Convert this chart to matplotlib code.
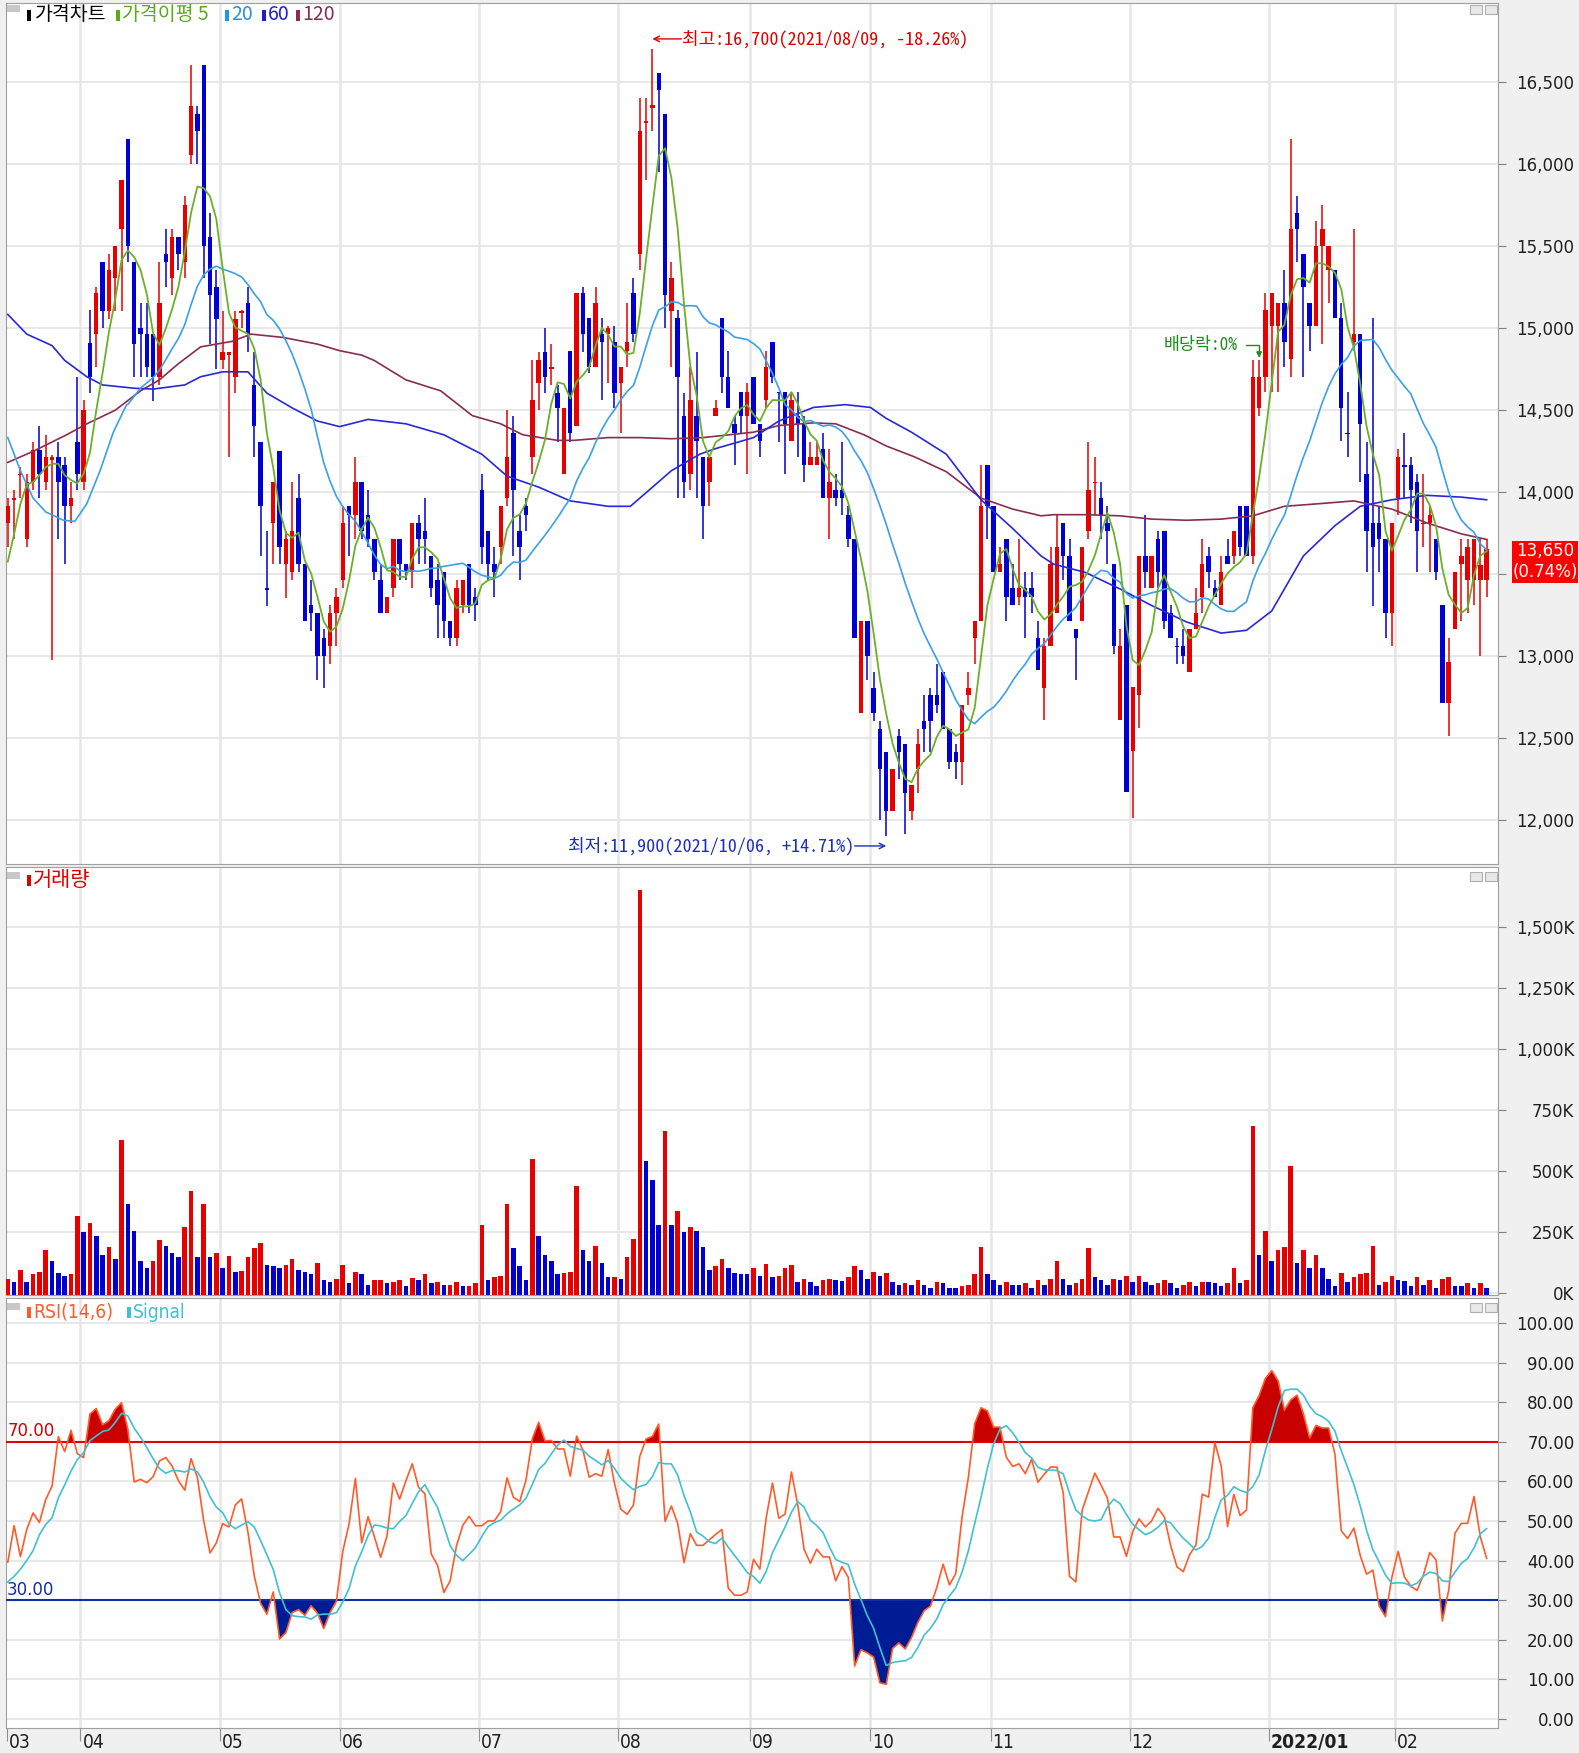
import numpy as np
import pandas as pd
import matplotlib
matplotlib.use("Agg")
import matplotlib.pyplot as plt
from matplotlib import font_manager
from matplotlib.patches import Rectangle
import matplotlib.transforms as mtransforms

# ---- daily candles, index 0 = 2021/03/16 ----
opens = [
    13810, 13950, 14100, 13710, 14060, 14255, 14060, 14190, 14210, 14160,
    13910, 14300, 14060, 14905, 14960, 15400, 15100, 15300, 15600, 16150,
    15400, 15000, 14960, 14960, 14700, 15450, 15300, 15550, 15400, 16050,
    16300, 16600, 15550, 15250, 14800, 14830, 14700, 15090, 15150, 14650,
    14300, 13410, 13810, 14250, 13560, 13510, 13960, 13560, 13310, 13260,
    13110, 13060, 13260, 13460, 13910, 13860, 14060, 13860, 13710, 13460,
    13260, 13410, 13710, 13560, 13510, 13810, 13760, 13610, 13460, 13510,
    13210, 13110, 13310, 13560, 13360, 14010, 13760, 13560, 13660, 13960,
    14360, 13760, 13910, 14210, 14660, 14850, 14750, 14600, 14110, 14860,
    14400, 15210, 15060, 14760, 14960, 14960, 14910, 14660, 14860, 15210,
    15450, 16250, 16340, 16550, 16300, 15100, 15060, 14460, 14110, 14460,
    14210, 14060, 14460, 15060, 14700, 14410, 14610, 14460, 14700, 14410,
    14560, 14910, 14610, 14610, 14310, 14460, 14410, 14160, 14160, 14260,
    13960, 14010, 14010, 13860, 13710, 12650, 13210, 12800, 12550, 12410,
    12050, 12510, 12460, 12050, 12310, 12600, 12760, 12760, 12900, 12550,
    12410, 12350, 12760, 13110, 13210, 14160, 13910, 13510, 13710, 13410,
    13360, 13410, 13410, 13110, 12800, 13060, 13260, 13810, 13610, 13160,
    13210, 13760, 14050, 13960, 13810, 13560, 12610, 13310, 12420, 12760,
    13610, 13410, 13710, 13760, 13260, 13060, 13060, 12900, 13160, 13360,
    13610, 13410, 13310, 13610, 13610, 13910, 13910, 13610, 14510, 14700,
    15010, 15010, 15150, 14810, 15700, 15450, 15150, 15010, 15500, 15350,
    15350, 15060, 14360, 14910, 14960, 14110, 13810, 13810, 13710, 13260,
    13960, 14160, 14160, 14060, 13800, 13810, 13710, 13310, 12710, 13160,
    13560, 13460, 13460, 13460, 13460,
]
highs = [
    13960, 14010, 14150, 14110, 14300, 14400, 14345, 14220, 14300, 14210,
    14060, 14700, 14560, 15110, 15250, 15400, 15450, 15500, 15900, 16150,
    15400, 15150, 15150, 14960, 15400, 15600, 15600, 15550, 15800, 16600,
    16350, 16600, 15700, 15350, 15100, 14850, 15100, 15110, 15250, 14850,
    14300, 13760, 14060, 14250, 13760, 14060, 14110, 13560, 13460, 13260,
    13160, 13310, 13410, 13910, 13910, 14210, 14060, 14010, 13710, 13560,
    13360, 13710, 13710, 13560, 13810, 13860, 13960, 13610, 13560, 13510,
    13210, 13460, 13460, 13560, 13410, 14110, 13760, 13660, 13910, 14500,
    14460, 13860, 13960, 14800, 14850, 15000, 14900, 14650, 14510, 14860,
    15210, 15250, 15060, 15250, 15060, 15010, 15010, 14760, 15150, 15300,
    16400, 16400, 16700, 16550, 16300, 15400, 15110, 14600, 14760, 14850,
    14210, 14210, 14560, 15060, 14860, 14460, 14610, 14660, 14700, 14410,
    14860, 14910, 14610, 14610, 14610, 14610, 14460, 14300, 14300, 14360,
    14260, 14110, 14300, 13910, 13710, 13210, 13210, 12900, 12600, 12410,
    12310, 12550, 12460, 12210, 12550, 12760, 12800, 12950, 12900, 12550,
    12460, 12700, 12900, 13210, 14160, 14160, 13910, 13660, 13710, 13560,
    13710, 13510, 13510, 13210, 13110, 13660, 13860, 13810, 13710, 13160,
    13660, 14300, 14210, 14060, 13910, 13560, 13160, 13310, 12810, 13610,
    13860, 13610, 13760, 13760, 13310, 13110, 13160, 13160, 13410, 13710,
    13660, 13460, 13610, 13710, 13760, 13910, 13910, 14800, 14800, 15210,
    15210, 15150, 15350, 16150, 15800, 15450, 15150, 15650, 15750, 15500,
    15350, 15150, 14610, 15600, 14960, 14300, 15060, 13910, 13710, 13810,
    14260, 14360, 14210, 14110, 14110, 13910, 13710, 13310, 13110, 13510,
    13710, 13710, 13710, 13710, 13710,
]
lows = [
    13660, 13710, 13960, 13660, 14010, 13960, 14010, 12970, 13710, 13560,
    13810, 14010, 14010, 14600, 14760, 15000, 15050, 15100, 15100, 15400,
    14700, 14700, 14700, 14550, 14650, 15250, 15200, 15350, 15300, 16000,
    16000, 15300, 14900, 14750, 14750, 14210, 14600, 15000, 14850, 14210,
    13610, 13300, 13560, 13560, 13350, 13460, 13510, 13210, 13150, 12850,
    12800, 12950, 13060, 13410, 13610, 13710, 13710, 13660, 13460, 13260,
    13260, 13360, 13460, 13460, 13410, 13560, 13560, 13360, 13110, 13110,
    13060, 13060, 13260, 13260, 13210, 13560, 13460, 13360, 13560, 13910,
    13610, 13460, 13760, 14110, 14500, 14600, 14650, 14300, 14110, 14300,
    14400, 14850, 14720, 14760, 14560, 14660, 14510, 14360, 14760, 14910,
    15350, 15900, 16200, 15950, 15000, 14760, 13960, 13960, 14010, 13960,
    13710, 13910, 14460, 14600, 14510, 14160, 14360, 14110, 14410, 14210,
    14510, 14660, 14300, 14110, 14310, 14210, 14060, 14160, 14160, 13960,
    13710, 13910, 13860, 13660, 13110, 12650, 12850, 12600, 12000, 11900,
    12050, 12250, 11910, 12000, 12160, 12410, 12410, 12650, 12550, 12310,
    12250, 12210, 12700, 12950, 13210, 13710, 13510, 13510, 13210, 13310,
    13310, 13110, 13260, 12910, 12610, 13060, 13260, 13460, 13210, 12850,
    13210, 13710, 13860, 13710, 13560, 13010, 12610, 12170, 12010, 12560,
    13410, 13410, 13410, 13160, 13110, 12950, 12950, 12900, 13160, 13260,
    13410, 13360, 13310, 13560, 13560, 13610, 13610, 13560, 14460, 14610,
    14610, 14610, 14760, 14700, 15400, 14700, 14860, 15010, 14900, 15150,
    15060, 14310, 14210, 14860, 14060, 13510, 13300, 13510, 13110, 13060,
    13860, 13960, 13810, 13510, 13660, 13510, 13460, 12710, 12510, 13160,
    13210, 13260, 13310, 13000, 13360,
]
closes = [
    13910, 13960, 14110, 14060, 14255, 14110, 14210, 14210, 14060, 13910,
    13960, 14110, 14500, 14700, 15210, 15100, 15350, 15500, 15900, 15500,
    14900, 14960, 14760, 14700, 15150, 15400, 15550, 15450, 15750, 16350,
    16200, 15500, 15200, 15050, 14850, 14850, 15050, 15100, 14960, 14400,
    13910, 13400, 14060, 13660, 13710, 13760, 13560, 13210, 13260, 13000,
    13000, 13260, 13360, 13810, 13860, 14060, 13760, 13710, 13510, 13260,
    13360, 13710, 13560, 13510, 13810, 13710, 13710, 13410, 13310, 13210,
    13110, 13410, 13460, 13310, 13310, 13660, 13560, 13510, 13910, 14210,
    14010, 13660, 13860, 14560, 14800, 14700, 14760, 14510, 14510, 14360,
    15210, 14960, 14760, 15150, 14910, 15000, 14600, 14760, 14910, 14960,
    16200, 16260, 16360, 16450, 15200, 15300, 14700, 14060, 14560, 14310,
    13910, 14210, 14510, 14700, 14510, 14360, 14460, 14610, 14410, 14310,
    14760, 14700, 14600, 14410, 14560, 14410, 14160, 14210, 14210, 13960,
    14060, 13960, 13960, 13710, 13110, 13210, 13000, 12650, 12310, 12050,
    12310, 12410, 12160, 12210, 12460, 12550, 12600, 12700, 12550, 12350,
    12350, 12700, 12800, 13210, 13910, 13910, 13510, 13560, 13360, 13310,
    13410, 13360, 13360, 12910, 13060, 13560, 13660, 13610, 13210, 13110,
    13660, 14010, 14060, 13860, 13760, 13060, 13060, 12170, 12810, 13610,
    13510, 13610, 13510, 13210, 13110, 13050, 13000, 13160, 13260, 13560,
    13510, 13360, 13510, 13560, 13760, 13660, 13610, 14700, 14700, 15110,
    15210, 15150, 14910, 15600, 15600, 15250, 15010, 15500, 15600, 15500,
    15060, 14510, 14350, 14960, 14410, 13760, 13660, 13710, 13260, 13810,
    14210, 14150, 14010, 13760, 13810, 13860, 13510, 12710, 12960, 13510,
    13610, 13660, 13710, 13550, 13650,
]
# volume in thousands of shares
volumes = [
    60, 48, 96, 48, 78, 89, 178, 133, 85, 71,
    78, 318, 249, 288, 233, 158, 188, 140, 626, 366,
    256, 133, 103, 133, 219, 195, 164, 147, 270, 420,
    147, 366, 147, 164, 103, 153, 89, 90, 147, 184,
    208, 115, 113, 103, 115, 140, 96, 89, 78, 126,
    53, 47, 60, 115, 41, 89, 78, 34, 53, 53,
    41, 48, 53, 29, 64, 53, 78, 41, 48, 34,
    34, 48, 29, 29, 41, 281, 53, 66, 71, 366,
    184, 110, 53, 551, 233, 158, 133, 78, 85, 89,
    441, 178, 133, 195, 126, 66, 66, 60, 147, 222,
    1650, 540, 466, 281, 663, 281, 338, 249, 270, 256,
    188, 96, 110, 140, 103, 85, 78, 77, 103, 71,
    122, 66, 71, 103, 115, 47, 60, 48, 29, 53,
    60, 53, 52, 66, 110, 96, 60, 89, 71, 85,
    48, 34, 41, 34, 53, 34, 22, 48, 41, 22,
    21, 29, 34, 78, 190, 78, 53, 34, 48, 34,
    33, 41, 22, 53, 34, 60, 133, 60, 34, 41,
    60, 184, 66, 53, 34, 60, 53, 71, 48, 71,
    48, 34, 41, 53, 41, 22, 34, 48, 29, 48,
    47, 41, 29, 41, 103, 41, 53, 684, 158, 256,
    133, 178, 190, 521, 126, 178, 103, 158, 103, 60,
    29, 85, 48, 66, 78, 85, 195, 34, 48, 71,
    53, 52, 29, 66, 34, 53, 22, 60, 66, 29,
    28, 41, 22, 41, 22,
]

# moving-average values visible before enough history exists
ma5_head = [13573, 13741, 13926, 14043]
ma20_head_x = [0, 2, 4, 6, 8.8, 10.6, 12.5, 14.6, 16.7, 18.8]
ma20_head_v = [14329, 14127, 13960, 13876, 13825, 13818, 13926, 14127, 14362, 14530]
ma60_x = [0, 3, 7, 9, 12.5, 15, 20, 23, 28, 30.5, 34, 38, 41, 45, 49, 52.5, 57,
          63, 69, 75, 79, 84, 89, 95, 98.5, 101, 105, 109.5, 112, 118, 122,
          127.5, 132.5, 136.5, 139, 143, 148.5, 154, 159, 163.5, 165.5, 170.5,
          176, 181, 186.5, 192, 196, 200, 205, 210, 214, 219, 224.5, 230, 234]
ma60_v = [15080, 14960, 14890, 14800, 14700, 14650, 14630, 14625, 14650, 14700,
          14730, 14730, 14600, 14510, 14430, 14396, 14440, 14413, 14346, 14228,
          14094, 14027, 13943, 13910, 13910, 13993, 14127, 14228, 14262, 14329,
          14430, 14513, 14530, 14513, 14446, 14362, 14228, 13950, 13775, 13607,
          13557, 13507, 13406, 13305, 13205, 13137, 13154, 13272, 13607, 13792,
          13910, 13950, 13977, 13966, 13950]
ma120_x = [0, 4, 9.3, 12.5, 17, 21, 24, 27, 30.5, 35.5, 38.5, 43.5, 49, 52.5,
           56, 58, 63, 68.5, 73.5, 78, 81.5, 87, 89.5, 95, 100, 105, 110, 118,
           122, 127.5, 131, 135.5, 139, 143.5, 148.5, 154, 159, 163.5, 165.5,
           170.5, 176, 181, 186.5, 192, 197, 202, 207.5, 213, 217, 219, 224.5,
           230, 234]
ma120_v = [14178, 14245, 14346, 14413, 14496, 14614, 14681, 14780, 14882, 14916,
           14960, 14940, 14899, 14859, 14832, 14799, 14681, 14614, 14463, 14413,
           14346, 14312, 14312, 14329, 14329, 14322, 14329, 14362, 14403, 14419,
           14413, 14346, 14278, 14211, 14121, 13960, 13893, 13852, 13859, 13859,
           13852, 13832, 13825, 13832, 13852, 13910, 13926, 13943, 13910, 13893,
           13809, 13742, 13708]
rsi_head = [39.6, 48.8, 41.0, 47.9, 52.0, 49.6, 55.4, 58.8, 71.3, 67.5, 72.9, 67.0, 66.0, 77.0]
signal_head = [34.6, 36.0, 37.8, 40.0, 42.5]

month_starts = [0, 12, 34, 53, 75, 97, 118, 137, 156, 178, 200, 220]
month_labels = ["03", "04", "05", "06", "07", "08", "09", "10", "11", "12", "2022/01", "02"]
price_ticks = [12000, 12500, 13000, 13500, 14000, 14500, 15000, 15500, 16000, 16500]
vol_ticks = [0, 250, 500, 750, 1000, 1250, 1500]
rsi_ticks = [0, 10, 20, 30, 40, 50, 60, 70, 80, 90, 100]

# ---- styling ----
W, H = 1579, 1753
UP, DOWN = "#e60000", "#0000d2"
GRID = "#e6e6e6"
EDGE = "#a0a0a0"
KR = ["Noto Sans CJK KR", "DejaVu Sans"]
KR_MONO = ["Noto Sans Mono CJK KR", "Noto Sans CJK KR", "DejaVu Sans"]

# tall narrow font for the axis numbers, if one is installed
_fonts = font_manager.fontManager.ttflist
if any(f.name == "Liberation Sans Narrow" for f in _fonts):
    NARROW, NS = dict(family="Liberation Sans Narrow"), 1.0
elif any(f.name == "DejaVu Sans" and f.stretch == "condensed" for f in _fonts):
    NARROW, NS = dict(family="DejaVu Sans", fontstretch="condensed"), 0.95
else:
    NARROW, NS = dict(family="DejaVu Sans"), 0.86

N = len(closes)
x = np.arange(N)
o = np.array(opens, float)
h = np.array(highs, float)
l = np.array(lows, float)
c = np.array(closes, float)
cols = np.where(c >= o, UP, DOWN)

cs = pd.Series(c)
ma5 = cs.rolling(5).mean()
ma20 = cs.rolling(20).mean()
d = cs.diff()
gain = d.clip(lower=0).rolling(14).sum()
loss = (-d.clip(upper=0)).rolling(14).sum()
rsi = 100 * gain / (gain + loss)
rsi.iloc[:14] = rsi_head
signal = rsi.rolling(6).mean()
signal.iloc[:5] = signal_head

grid_x = [m - 0.5 for m in month_starts[1:]]

fig = plt.figure(figsize=(W / 100, H / 100), dpi=100, facecolor="#f0f0f0")


def add_panel(top, bottom):
    ax = fig.add_axes([6 / W, 1 - bottom / H, 1492 / W, (bottom - top) / H])
    ax.set_facecolor("white")
    ax.set_xlim(-0.285, 235.8)
    for s in ax.spines.values():
        s.set_color(EDGE)
    ax.set_axisbelow(True)
    ax.grid(axis="y", color=GRID, lw=1.3)
    for g in grid_x:
        ax.axvline(g, color=GRID, lw=1.8, zorder=0)
    return ax


def right_labels(ax, ticks, labels):
    ax.set_yticks(ticks)
    ax.yaxis.tick_right()
    ax.set_yticklabels(labels, fontsize=14 * NS, color="#202020", **NARROW)
    ax.tick_params(axis="y", length=6, color="#808080", pad=49)
    for t in ax.get_yticklabels():
        t.set_horizontalalignment("right")


def ftext(px, py, s, **kw):
    return fig.text(px / W, 1 - py / H, s, **kw)


def frect(px, py, w, hh, z=1, **kw):
    fig.add_artist(Rectangle((px / W, 1 - (py + hh) / H), w / W, hh / H,
                             transform=fig.transFigure, zorder=z, **kw))


def legend_item(px, py, color, label, **kw):
    frect(px, py - 5, 4, 11, facecolor=color, edgecolor="none")
    ftext(px + 6, py, label, color=color, va="center", **kw)


def panel_icons(py):
    frect(7, py, 13, 7, facecolor="#c8c8c8", edgecolor="none")
    frect(1470, py, 12, 9, facecolor="#e8e8e8", edgecolor="#b0b0b0", lw=0.8)
    frect(1485, py, 12, 9, facecolor="#e8e8e8", edgecolor="#b0b0b0", lw=0.8)


# ---- price panel ----
ax_p = add_panel(3, 864)
ax_p.set_ylim(11729, 16979)
ax_p.set_xticks([])
# the last-price box on the axis hides the label it sits on
right_labels(ax_p, price_ticks, ["" if v == 13500 else f"{v:,}" for v in price_ticks])

ax_p.vlines(x, l, h, colors=cols, lw=1.1, zorder=3)
ax_p.bar(x, np.maximum(np.abs(c - o), 10), bottom=np.minimum(o, c), width=0.7,
         color=cols, lw=0, zorder=4)

ax_p.plot(ma120_x, ma120_v, color="#8a2c52", lw=1.2, zorder=5)
ax_p.plot(ma60_x, ma60_v, color="#2828d8", lw=1.2, zorder=5)
ax_p.plot(ma20_head_x + list(range(19, N)), ma20_head_v + list(ma20[19:]),
          color="#3aa0e8", lw=1.2, zorder=5)
ax_p.plot(list(range(4)) + list(range(4, N)), ma5_head + list(ma5[4:]),
          color="#6ab02a", lw=1.3, zorder=6)

hi = int(np.argmax(h))
lo = int(np.argmin(l))
ax_p.annotate("", xy=(hi, 16760), xytext=(hi + 4.6, 16760),
              arrowprops=dict(arrowstyle="->", color="#e00000", lw=1, shrinkA=0, shrinkB=0))
ax_p.text(hi + 4.7, 16760, f"최고:{h[hi]:,.0f}(2021/08/09, -18.26%)", color="#e00000",
          fontsize=13, family=KR_MONO, va="center", ha="left")
ax_p.annotate("", xy=(lo, 11839), xytext=(lo - 5.0, 11839),
              arrowprops=dict(arrowstyle="->", color="#1c2fc0", lw=1, shrinkA=0, shrinkB=0))
ax_p.text(lo - 5.1, 11839, f"최저:{l[lo]:,.0f}(2021/10/06, +14.71%)", color="#1c2fc0",
          fontsize=13, family=KR_MONO, va="center", ha="right")
ax_p.annotate("배당락:0%", xy=(198, 14815), xytext=(194.6, 14894),
              color="#1f8a1f", fontsize=12.5, family=KR_MONO, va="center", ha="right",
              arrowprops=dict(arrowstyle="-|>", color="#1f8a1f", lw=1, mutation_scale=8,
                              connectionstyle="angle,angleA=0,angleB=90,rad=0",
                              shrinkA=4, shrinkB=0))

panel_icons(5)
frect(27, 10, 4, 11, facecolor="black", edgecolor="none")
ftext(35, 15, "가격차트", color="black", fontsize=14, family=KR, va="center")
legend_item(116, 15, "#5aaa1a", "가격이평 5", fontsize=14, family=KR)
legend_item(225, 15, "#2a90e0", "20", fontsize=14, family=KR)
legend_item(262, 15, "#1e1ed0", "60", fontsize=14, family=KR)
legend_item(296, 15, "#8a2c52", "120", fontsize=14, family=KR)

frect(1512, 541, 66, 42, z=5, facecolor="#ff0000", edgecolor="none")
ftext(1545, 551, f"{c[-1]:,.0f}", color="white", fontsize=14 * NS,
      ha="center", va="center", zorder=6, **NARROW)
ftext(1545, 572, f"({(c[-1] / c[-2] - 1) * 100:.2f}%)", color="white", fontsize=14 * NS,
      ha="center", va="center", zorder=6, **NARROW)

# ---- volume panel ----
ax_v = add_panel(867, 1295)
ax_v.set_ylim(-7, 1746)
ax_v.set_xticks([])
right_labels(ax_v, vol_ticks, [f"{v:,}K" for v in vol_ticks])
vol = np.array(volumes, float)
vcols = [UP] + [UP if vol[i] >= vol[i - 1] else DOWN for i in range(1, N)]
ax_v.bar(x, vol + 7, bottom=-7, width=0.72, color=vcols, lw=0, zorder=3)
panel_icons(872)
legend_item(27, 880, "#e00000", "거래량", fontsize=15, family=KR)

# ---- RSI panel ----
ax_r = add_panel(1298, 1728)
ax_r.set_ylim(-2.3, 106.3)
right_labels(ax_r, rsi_ticks, [f"{v:.2f}" for v in rsi_ticks])
ax_r.fill_between(x, rsi, 70, where=rsi >= 70, interpolate=True, color="#c80000", lw=0, zorder=2)
ax_r.fill_between(x, rsi, 30, where=rsi <= 30, interpolate=True, color="#001c94", lw=0, zorder=2)
ax_r.axhline(70, color="#e00000", lw=1.5, zorder=3)
ax_r.axhline(30, color="#1030a0", lw=1.5, zorder=3)
ax_r.plot(x, rsi, color="#ff5a2a", lw=1.2, zorder=4)
ax_r.plot(x, signal, color="#40c0d0", lw=1.2, zorder=5)
ax_r.text(-0.1, 70.4, "70.00", color="#d00000", fontsize=14 * NS, va="bottom", ha="left", **NARROW)
ax_r.text(-0.1, 30.4, "30.00", color="#1030a0", fontsize=14 * NS, va="bottom", ha="left", **NARROW)
panel_icons(1303)
legend_item(27, 1312, "#ff5a2a", "RSI(14,6)", fontsize=14.5 * NS, **NARROW)
legend_item(127, 1312, "#40c0d0", "Signal", fontsize=14.5 * NS, **NARROW)

# month axis under the RSI panel
ax_r.set_xticks([-0.2] + grid_x)
ax_r.set_xticklabels([])
ax_r.tick_params(axis="x", length=9, color="#909090", direction="out")
shift = mtransforms.ScaledTranslation(2 / 100, 0, fig.dpi_scale_trans)
for pos, lab in zip([-0.2] + grid_x, month_labels):
    ax_r.text(pos, -0.012, lab, transform=ax_r.get_xaxis_transform() + shift,
              ha="left", va="top", fontsize=14.5 * NS, color="#202020",
              fontweight="bold" if "/" in lab else "normal", **NARROW)

fig.savefig("out.png", dpi=100, facecolor=fig.get_facecolor())
